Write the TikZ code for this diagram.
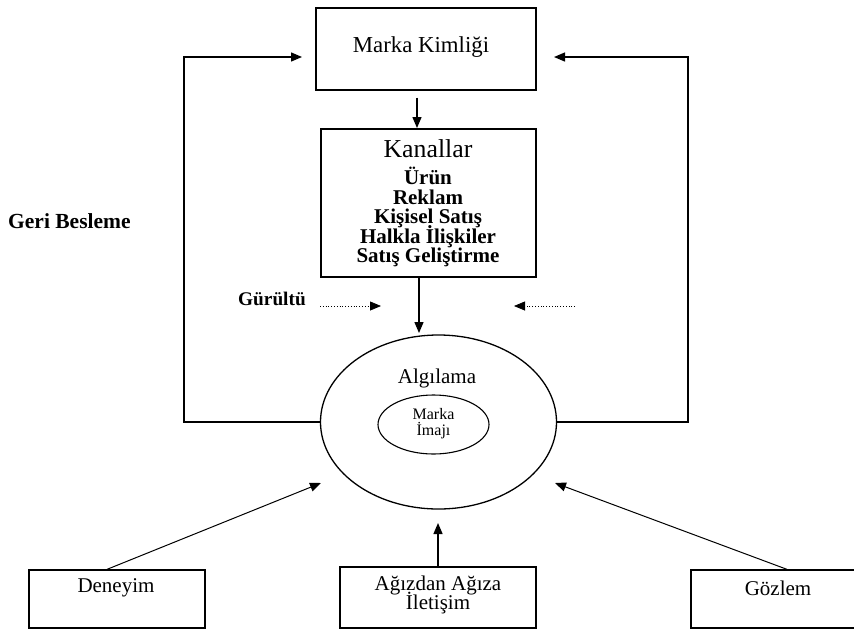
\documentclass[tikz,border=0pt]{standalone}
\usepackage{fontspec}
\setmainfont{Liberation Serif}
\usetikzlibrary{arrows.meta,shapes.geometric}
\setlength{\lineskiplimit}{-20pt}
\begin{document}
\begin{tikzpicture}[x=1pt,y=-1pt,
  box/.style={draw,line width=1.3pt,inner sep=0pt,rectangle},
  arr/.style={line width=1.3pt,-{Triangle[length=11pt,width=9pt]}},
  dotarr/.style={line width=0.8pt,dotted,-{Triangle[length=11pt,width=9pt]}},
  txt/.style={font=\fontsize{21}{19}\selectfont,inner sep=0pt,align=center},
  btxt/.style={font=\fontsize{21}{19.5}\selectfont\bfseries,inner sep=0pt,align=center},
  stxt/.style={font=\fontsize{16}{16}\selectfont,inner sep=0pt,align=center}]
\useasboundingbox (0,0) rectangle (854,630);
% boxes
\node[box,minimum width=220pt,minimum height=82pt] (mk) at (426,49) {};
\node[txt,font=\fontsize{22.8}{22.8}\selectfont] (mkT) at (421,47) {Marka Kimliği};
\node[box,minimum width=215pt,minimum height=148pt] (kan) at (428.5,203) {};
\node[txt,font=\fontsize{25.8}{25.8}\selectfont] (kanT) at (428,149) {Kanallar};
\node[btxt] (kanL) at (428,217) {Ürün\\Reklam\\Kişisel Satış\\Halkla İlişkiler\\Satış Geliştirme};
% ellipses
\node[draw,ellipse,line width=1.3pt,minimum width=236pt,minimum height=174pt,inner sep=0pt] (alg) at (438.5,422) {};
\node[txt] (algT) at (437,378) {Algılama};
\node[draw,ellipse,line width=1.1pt,minimum width=111pt,minimum height=59pt,inner sep=0pt] (im) at (433.5,424.5) {};
\node[stxt] (imT) at (433.5,424) {Marka\\İmajı};
% bottom boxes
\node[box,minimum width=176pt,minimum height=58pt] (den) at (117,599) {};
\node[txt] (denT) at (116,588) {Deneyim};
\node[box,minimum width=196pt,minimum height=61pt] (ag) at (438,597.5) {};
\node[txt] (agT) at (438,594.5) {Ağızdan Ağıza\\İletişim};
\node[box,minimum width=165pt,minimum height=58pt] (goz) at (773.5,599) {};
\node[txt] (gozT) at (778,588) {Gözlem};
% labels
\node[btxt,font=\fontsize{21.5}{21.5}\selectfont\bfseries,anchor=west] (geri) at (8,221) {Geri Besleme};
\node[btxt,font=\fontsize{19.3}{19.3}\selectfont\bfseries,anchor=west] (gur) at (238,299) {Gürültü};
% coordinates
\coordinate (fbx) at (184,0);
\coordinate (fbLt) at (302,57);
\coordinate (fbR) at (688,0);
\coordinate (fbRt) at (554,57);
\coordinate (gL1) at (320,306);
\coordinate (gL2) at (381,306);
\coordinate (gR1) at (575,306);
\coordinate (gR2) at (514,306);
\coordinate (denTip) at (321,483);
\coordinate (agTip) at (438,523);
\coordinate (gozTip) at (555,483);
\coordinate (kanTip) at (419,333);
\coordinate (mkTip) at (417,128);
% connectors
\draw[arr] (alg.west) -- (alg.west -| fbx) |- (fbLt);
\draw[arr] (alg.east) -- (alg.east -| fbR) |- (fbRt);
\draw[arr] ([xshift=-9pt,yshift=-7pt]mk.south) -- (mkTip);
\draw[arr] (kan.south -| kanTip) -- (kanTip);
\draw[dotarr] (gL1) -- (gL2);
\draw[dotarr] (gR1) -- (gR2);
\draw[arr,line width=1pt] ([xshift=-10pt]den.north) -- (denTip);
\draw[arr] (ag.north) -- (agTip);
\draw[arr,line width=1pt] ([xshift=13.5pt]goz.north) -- (gozTip);
\end{tikzpicture}
\end{document}
